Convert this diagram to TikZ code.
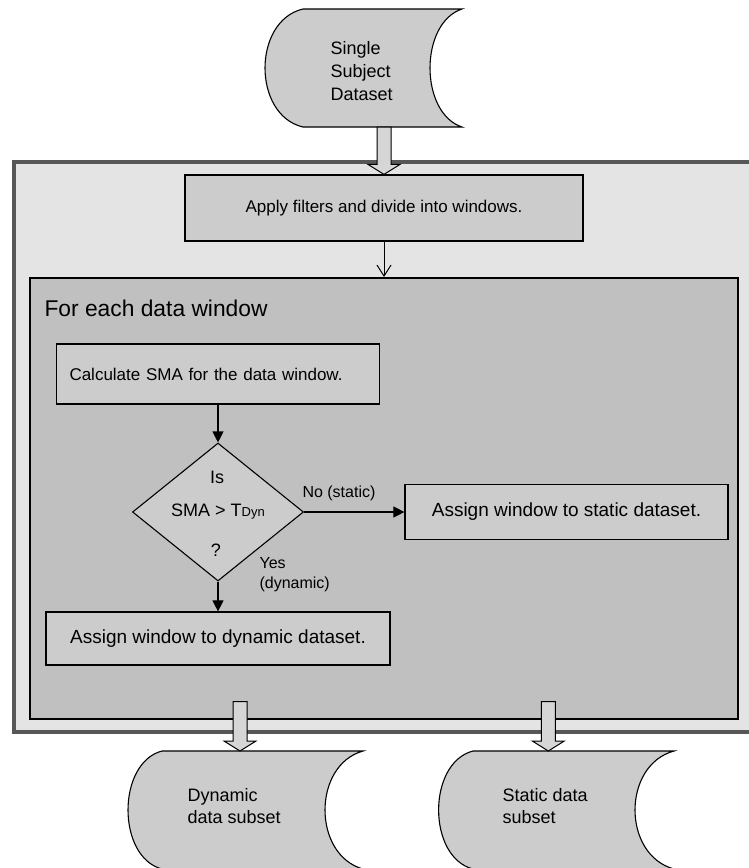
\documentclass[tikz,border=0pt]{standalone}
\usepackage{fontspec}
\setmainfont{Liberation Sans}
\usetikzlibrary{arrows.meta,calc,shapes.geometric}

\definecolor{framefill}{HTML}{E4E4E4}
\definecolor{framedraw}{HTML}{575757}
\definecolor{loopfill}{HTML}{C0C0C0}
\definecolor{boxfill}{HTML}{CCCCCC}
\definecolor{arrowfill}{HTML}{D6D6D6}

% stored-data symbol: convex left side, concave right side
% #1 node, #2 depth of the left bulge, #3 depth of the right hollow
\newcommand\storepath[3]{%
  \filldraw[storeshape]
    ($(#1.north west)+(#2,0)$) -- (#1.north east)
    .. controls ($(#1.north east)!0.12!(#1.south east)+(-1.333*#3,0)$)
            and ($(#1.north east)!0.88!(#1.south east)+(-1.333*#3,0)$) .. (#1.south east)
    -- ($(#1.south west)+(#2,0)$)
    .. controls ($(#1.north west)!0.9!(#1.south west)+(-0.333*#2,0)$)
            and ($(#1.north west)!0.1!(#1.south west)+(-0.333*#2,0)$) .. ($(#1.north west)+(#2,0)$)
    -- cycle;}

% hollow block arrow pointing down, #1 start of the shaft, #2 tip
\newcommand\blockdown[2]{%
  \filldraw[blockarrow]
    ($(#1)+(-7,0)$) -- ($(#2)+(-7,-10)$) -- ($(#2)+(-16,-10)$) -- (#2)
    -- ($(#2)+(16,-10)$) -- ($(#2)+(7,-10)$) -- ($(#1)+(7,0)$) -- cycle;}

\begin{document}
\begin{tikzpicture}[x=1pt,y=-1pt,
  every node/.style={font=\fontsize{18}{22}\selectfont},
  outerframe/.style={draw=framedraw, line width=4pt, fill=framefill, inner sep=0pt},
  loopbox/.style={draw=black, line width=1.5pt, fill=loopfill, inner sep=0pt},
  procbox/.style={draw=black, line width=1.2pt, fill=boxfill, inner sep=0pt},
  decision/.style={diamond, draw=black, line width=1.1pt, fill=boxfill, inner sep=0pt},
  storebox/.style={inner sep=0pt, outer sep=0pt},
  storeshape/.style={draw=black, line width=1.1pt, fill=boxfill},
  storetext/.style={anchor=west, align=left, font=\fontsize{18}{23}\selectfont},
  blockarrow/.style={draw=black, line width=1pt, fill=arrowfill},
  flow/.style={draw=black, line width=1.1pt, -{Triangle[length=11pt,width=11pt]}},
  openflow/.style={draw=black, line width=1pt, -{Straight Barb[length=11pt,width=14pt]}},
  smalllabel/.style={font=\fontsize{16}{20}\selectfont},
  decisiontext/.style={font=\fontsize{18}{21}\selectfont},
]
\useasboundingbox (0,0) rectangle (749,868);

% frames
\node[outerframe, minimum width=753pt, minimum height=570pt, anchor=north west] (outer) at (12,160) {};
\node[loopbox, minimum width=708pt, minimum height=441pt, anchor=north west] (dwin) at (29,277) {};
\node[anchor=west, font=\fontsize{22.8}{26}\selectfont] (title) at (41,308) {For each data window};

% process steps
\node[procbox, minimum width=398pt, minimum height=66pt, font=\fontsize{17}{20}\selectfont] (apply) at (384,208) {Apply filters and divide into windows.};
\node[procbox, minimum width=323pt, minimum height=60pt, text width=297pt, align=left, inner xsep=13pt, font=\fontsize{17}{20}\selectfont] (sma) at (218,374) {Calculate SMA for the data window.};
\node[decision, minimum width=171pt, minimum height=138pt] (dec) at (218,512) {};
\node[decisiontext] (decis) at ($(dec.center)+(-1,-35)$) {Is};
\node[decisiontext] (decsma) at (dec.center) {SMA > T{\fontsize{13}{15}\selectfont Dyn}};
\node[decisiontext] (decq) at ($(dec.center)+(-2,38)$) {?};
\node[procbox, minimum width=323pt, minimum height=55pt, font=\fontsize{19}{22}\selectfont] (static) at (566.5,512) {Assign window to static dataset.};
\node[procbox, minimum width=344pt, minimum height=53pt, font=\fontsize{19}{22}\selectfont] (dynbox) at (218,638.5) {Assign window to dynamic dataset.};

% connectors inside the loop
\draw[openflow] (apply.south) -- (apply.south |- dwin.north);
\draw[flow] (sma.south) -- (dec.north);
\draw[flow] (dec.east) -- (dec.east -| static.west);
\draw[flow] (dec.south) -- (dynbox.north);
\node[smalllabel, anchor=west] (nolab) at (299,493) {No (static)};
\node[smalllabel, anchor=west, align=left] (yeslab) at (256,575) {Yes\\(dynamic)};

% data stores
\node[storebox, minimum width=197pt, minimum height=118pt, anchor=north west] (ssd) at (265,9) {};
\node[storebox, minimum width=235pt, minimum height=118pt, anchor=north west] (dynstore) at (128,751) {};
\node[storebox, minimum width=235.4pt, minimum height=118pt, anchor=north west] (ststore) at (438.6,751) {};
\storepath{ssd}{38}{32}
\storepath{dynstore}{34}{38}
\storepath{ststore}{34.4}{39}
\node[storetext] (ssdt) at (327,71) {Single\\Subject\\Dataset};
\node[storetext, font=\fontsize{18}{22}\selectfont] (dynt) at (184,806) {Dynamic\\data subset};
\node[storetext, font=\fontsize{18}{22}\selectfont] (stt) at (499,806) {Static data\\subset};

% block arrows between the stores and the processing frame
\coordinate (topfrom) at (apply.north |- ssd.south);
\blockdown{topfrom}{apply.north}
\coordinate (shaftlevel) at ($(dwin.south)+(0,-18)$);
\coordinate (dyntip) at ($(dynstore.north)+(-5.5,0)$);
\coordinate (dynfrom) at (dyntip |- shaftlevel);
\blockdown{dynfrom}{dyntip}
\coordinate (sttip) at ($(ststore.north)+(-8,0)$);
\coordinate (stfrom) at (sttip |- shaftlevel);
\blockdown{stfrom}{sttip}
\end{tikzpicture}
\end{document}
